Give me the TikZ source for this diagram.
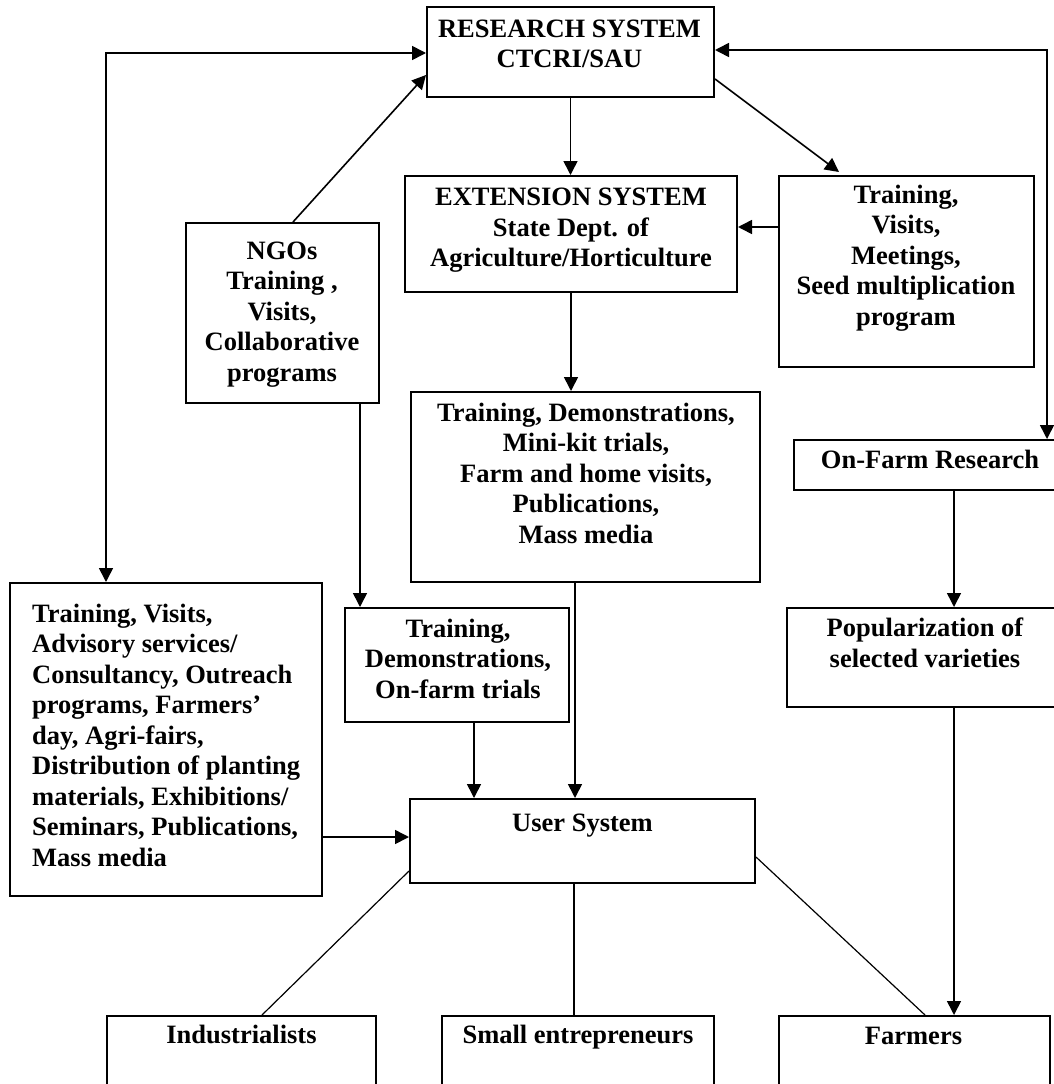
\documentclass[tikz,border=0pt]{standalone}
\usepackage{fontspec}
\setmainfont{Liberation Serif}
\usetikzlibrary{arrows.meta,calc}
\tikzset{
  box/.style={draw, line width=2pt, inner sep=0pt, rectangle},
  txt/.style={font=\fontsize{26.5pt}{30.5pt}\selectfont\bfseries, inner sep=0pt, align=center, anchor=base},
  conn/.style={line width=1.6pt, -{Triangle[length=14pt,width=14pt]}},
  biconn/.style={line width=1.6pt, {Triangle[length=14pt,width=14pt]}-{Triangle[length=14pt,width=14pt]}},
  thin line/.style={line width=1.2pt}
}
\begin{document}
\begin{tikzpicture}[x=1pt,y=-1pt]
\useasboundingbox (0,0) rectangle (1053,1084);
% boxes
\node[box, minimum width=287pt, minimum height=90pt] (research) at (570.5,52) {};
\node[box, minimum width=332pt, minimum height=116pt] (extension) at (571,234) {};
\node[box, minimum width=255pt, minimum height=191pt] (visits) at (906.5,271.5) {};
\node[box, minimum width=193pt, minimum height=180pt] (ngo) at (282.5,313) {};
\node[box, minimum width=349pt, minimum height=190pt] (bigtd) at (585.5,487) {};
\node[box, minimum width=224pt, minimum height=114pt] (smalltd) at (457,665) {};
\node[box, minimum width=312pt, minimum height=313pt] (leftbox) at (166,739.5) {};
\node[box, minimum width=345pt, minimum height=84pt] (user) at (582.5,841) {};
\node[box, minimum width=272pt, minimum height=50pt] (onfarm) at (930,465) {};
\node[box, minimum width=276pt, minimum height=99pt] (pop) at (925,657.5) {};
\node[box, minimum width=269pt, minimum height=94pt] (indus) at (241.5,1063) {};
\node[box, minimum width=272pt, minimum height=94pt] (smallent) at (578,1063) {};
\node[box, minimum width=271pt, minimum height=94pt] (farmers) at (914.5,1063) {};
% texts (anchor base = baseline of the last line)
\node[txt] (tresearch) at (569.5,67.5) {RESEARCH SYSTEM\\CTCRI/SAU};
\node[txt] (textension) at (571,266.5) {EXTENSION SYSTEM\\State Dept. of\\Agriculture/Horticulture};
\node[txt] (tvisits) at (906,325) {Training,\\Visits,\\Meetings,\\Seed multiplication\\program};
\node[txt] (tngo) at (282,381) {NGOs\\Training ,\\Visits,\\Collaborative\\programs};
\node[txt] (tbigtd) at (586,543) {Training, Demonstrations,\\Mini-kit trials,\\Farm and home visits,\\Publications,\\Mass media};
\node[txt] (tsmalltd) at (458,698) {Training,\\Demonstrations,\\On-farm trials};
\node[txt, align=left, anchor=base west] (tleftbox) at (32,866) {Training, Visits,\\Advisory services/\\Consultancy, Outreach\\programs, Farmers’\\day, Agri-fairs,\\Distribution of planting\\materials, Exhibitions/\\Seminars, Publications,\\Mass media};
\node[txt] (tuser) at (582.5,831) {User System};
\node[txt] (tonfarm) at (930,468) {On-Farm Research};
\node[txt] (tpop) at (925,667) {Popularization of\\selected varieties};
\node[txt] (tindus) at (241.5,1043) {Industrialists};
\node[txt] (tsmallent) at (578,1043) {Small entrepreneurs};
\node[txt] (tfarmers) at (913.5,1044) {Farmers};
% helper coordinates
\coordinate (lc) at (106,53);
\coordinate (rc) at (1047,50);
\coordinate (e1) at ([yshift=7pt]extension.east);
\coordinate (n1) at ([xshift=77.5pt]ngo.south);
\coordinate (s1) at ([xshift=17pt]smalltd.south);
\coordinate (b1) at ([xshift=-10.5pt]bigtd.south);
\coordinate (u1) at ([yshift=4pt]user.west);
\coordinate (o1) at ([xshift=24pt]onfarm.south);
\coordinate (p1) at (o1 |- pop.south);
\coordinate (m1) at ([xshift=-8.5pt]user.south);
% connectors
\draw[biconn] (lc |- leftbox.north) -- (lc) -- (research.west |- lc);
\draw[biconn] (research.east |- rc) -- (rc) -- (rc |- onfarm.north);
\draw[conn] ([xshift=10.5pt]ngo.north) -- ([yshift=-23pt]research.west);
\draw[conn] (research.south) -- (research.south |- extension.north);
\draw[conn, shorten >=5pt] ([yshift=-27pt]research.east) -- ([xshift=-63.5pt]visits.north);
\draw[conn] (e1 -| visits.west) -- (e1);
\draw[conn] (extension.south) -- (extension.south |- bigtd.north);
\draw[conn] (n1) -- (n1 |- smalltd.north);
\draw[conn] (s1) -- (s1 |- user.north);
\draw[conn] (b1) -- (b1 |- user.north);
\draw[conn] (u1 -| leftbox.east) -- (u1);
\draw[conn] (o1) -- (o1 |- pop.north);
\draw[conn] (p1) -- (p1 |- farmers.north);
\draw[thin line] ([yshift=-30pt]user.west) -- ([xshift=20.5pt]indus.north);
\draw[thin line] (m1) -- (m1 |- smallent.north);
\draw[thin line] ([yshift=-16pt]user.east) -- ([xshift=10.5pt]farmers.north);
\end{tikzpicture}
\end{document}
